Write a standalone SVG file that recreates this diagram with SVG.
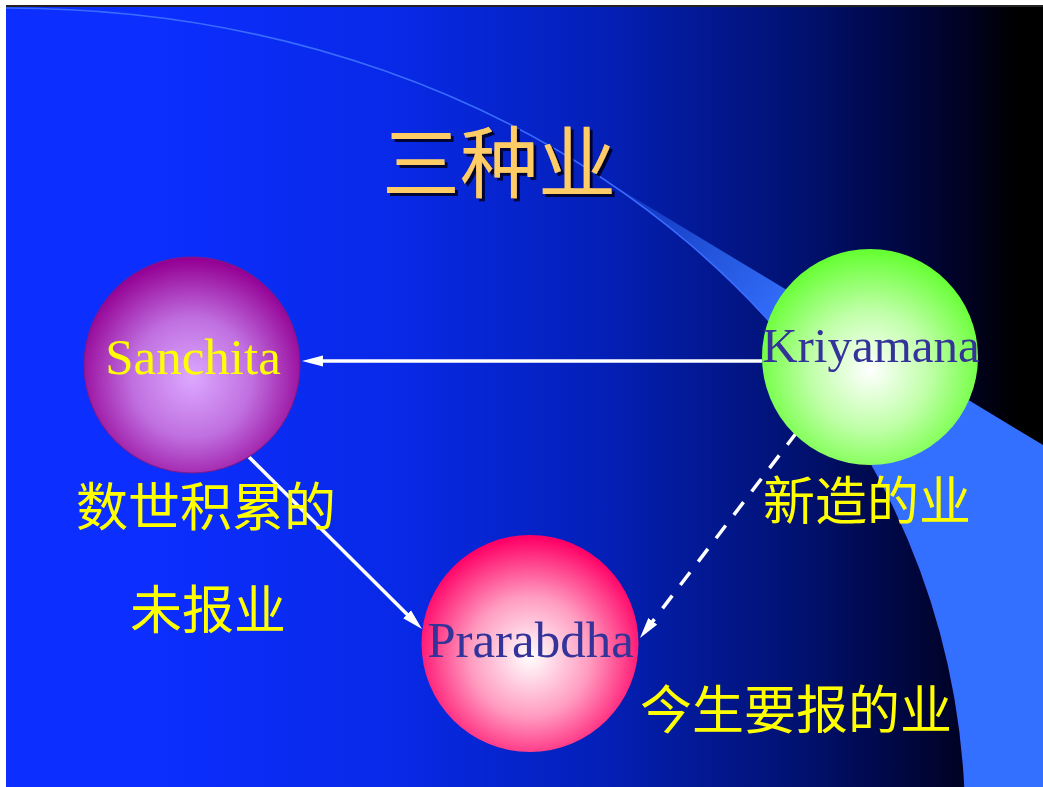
<svg xmlns="http://www.w3.org/2000/svg" width="1043" height="787" viewBox="0 0 1043 787">
  <style>
    .label { font-family: "Noto Sans CJK SC", "Noto Sans", sans-serif; font-size: 52px; fill: #ffff00; }
    .title { font-family: "Noto Sans CJK SC", "Noto Sans", sans-serif; font-size: 78px; fill: #ffcc66; }
    .name { font-family: "Liberation Serif", "Times New Roman", serif; }
    .conn { stroke: #ffffff; stroke-width: 3.5; fill: none; }
  </style>
  <defs>
    <linearGradient id="bg" gradientUnits="userSpaceOnUse" x1="6" y1="0" x2="1043" y2="0">
      <stop offset="0" stop-color="#0c2eff"/>
      <stop offset="0.139" stop-color="#0c2eff"/>
      <stop offset="0.38" stop-color="#0829e6"/>
      <stop offset="0.573" stop-color="#0420b8"/>
      <stop offset="0.766" stop-color="#011170"/>
      <stop offset="0.862" stop-color="#000742"/>
      <stop offset="0.93" stop-color="#000220"/>
      <stop offset="0.973" stop-color="#000000"/>
      <stop offset="1" stop-color="#000000"/>
    </linearGradient>
    <linearGradient id="band" gradientUnits="userSpaceOnUse" x1="590" y1="172" x2="800" y2="300">
      <stop offset="0" stop-color="#3370ff" stop-opacity="0.1"/>
      <stop offset="0.6" stop-color="#3370ff" stop-opacity="0.7"/>
      <stop offset="1" stop-color="#3370ff" stop-opacity="1"/>
    </linearGradient>
    <radialGradient id="gPurple" cx="0.5" cy="0.56" r="0.55">
      <stop offset="0" stop-color="#dca8ff"/>
      <stop offset="0.5" stop-color="#c070e0"/>
      <stop offset="1" stop-color="#940094"/>
    </radialGradient>
    <radialGradient id="gGreen" cx="0.5" cy="0.56" r="0.55">
      <stop offset="0" stop-color="#ffffff"/>
      <stop offset="0.5" stop-color="#c0ffa8"/>
      <stop offset="1" stop-color="#66ff33"/>
    </radialGradient>
    <radialGradient id="gRed" cx="0.5" cy="0.56" r="0.55">
      <stop offset="0" stop-color="#ffffff"/>
      <stop offset="0.5" stop-color="#ff9cc0"/>
      <stop offset="1" stop-color="#ff0066"/>
    </radialGradient>
    <clipPath id="slide">
      <rect x="6" y="7" width="1037" height="780"/>
    </clipPath>
    <clipPath id="outside">
      <path d="M 6,8 C 548,8 966,364 966,826 L 1043,826 L 1043,0 L 6,0 Z"/>
    </clipPath>
    <filter id="shadow" x="-10%" y="-10%" width="130%" height="130%">
      <feDropShadow dx="3" dy="3" stdDeviation="0.6" flood-color="#000022" flood-opacity="0.9"/>
    </filter>
    <marker id="arrow" markerUnits="userSpaceOnUse" markerWidth="22" markerHeight="12" viewBox="0 0 22 12" refX="13" refY="6" orient="auto">
      <path d="M0,0.5 L21,6 L0,11.5 Z" fill="#ffffff"/>
    </marker>
  </defs>

  <g id="background">
    <rect x="0" y="0" width="1043" height="787" fill="#ffffff"/>
    <rect x="6" y="5" width="1037" height="2" fill="#222222"/>
    <g clip-path="url(#slide)">
      <rect x="6" y="7" width="1037" height="780" fill="url(#bg)"/>
      <path d="M 560,153 L 1043,445 L 1043,787 L 700,787 L 560,200 Z" fill="url(#band)" clip-path="url(#outside)"/>
      <path d="M 6,8 C 548,8 966,364 966,826" fill="none" stroke="#3a6cff" stroke-width="1.6"/>
    </g>
  </g>

  <g id="title">
    <text class="title" x="382" y="192" filter="url(#shadow)">三种业</text>
  </g>

  <g id="connectors">
    <line class="conn" x1="762" y1="361" x2="310" y2="361" marker-end="url(#arrow)"/>
    <line class="conn" x1="249" y1="457" x2="416.3" y2="623.4" marker-end="url(#arrow)"/>
    <line class="conn" x1="797" y1="432" x2="644.85" y2="631.64" stroke-width="4" stroke-dasharray="16 13.4" marker-end="url(#arrow)"/>
  </g>

  <g id="node-sanchita">
    <circle cx="192" cy="365" r="108" fill="url(#gPurple)" stroke="#7a1a8a" stroke-width="1"/>
    <text class="name" x="193" y="374" font-size="51" fill="#ffff00" text-anchor="middle">Sanchita</text>
  </g>

  <g id="node-kriyamana">
    <circle cx="870" cy="357" r="108" fill="url(#gGreen)"/>
    <text class="name" x="871" y="362" font-size="49" fill="#333399" text-anchor="middle">Kriyamana</text>
  </g>

  <g id="node-prarabdha">
    <circle cx="530" cy="643.5" r="108.5" fill="url(#gRed)"/>
    <text class="name" x="530.5" y="657" font-size="51" fill="#333399" text-anchor="middle">Prarabdha</text>
  </g>

  <g id="labels">
    <text class="label" x="76" y="526">数世积累的</text>
    <text class="label" x="130" y="629">未报业</text>
    <text class="label" x="763" y="520">新造的业</text>
    <text class="label" x="640" y="729">今生要报的业</text>
  </g>
</svg>
